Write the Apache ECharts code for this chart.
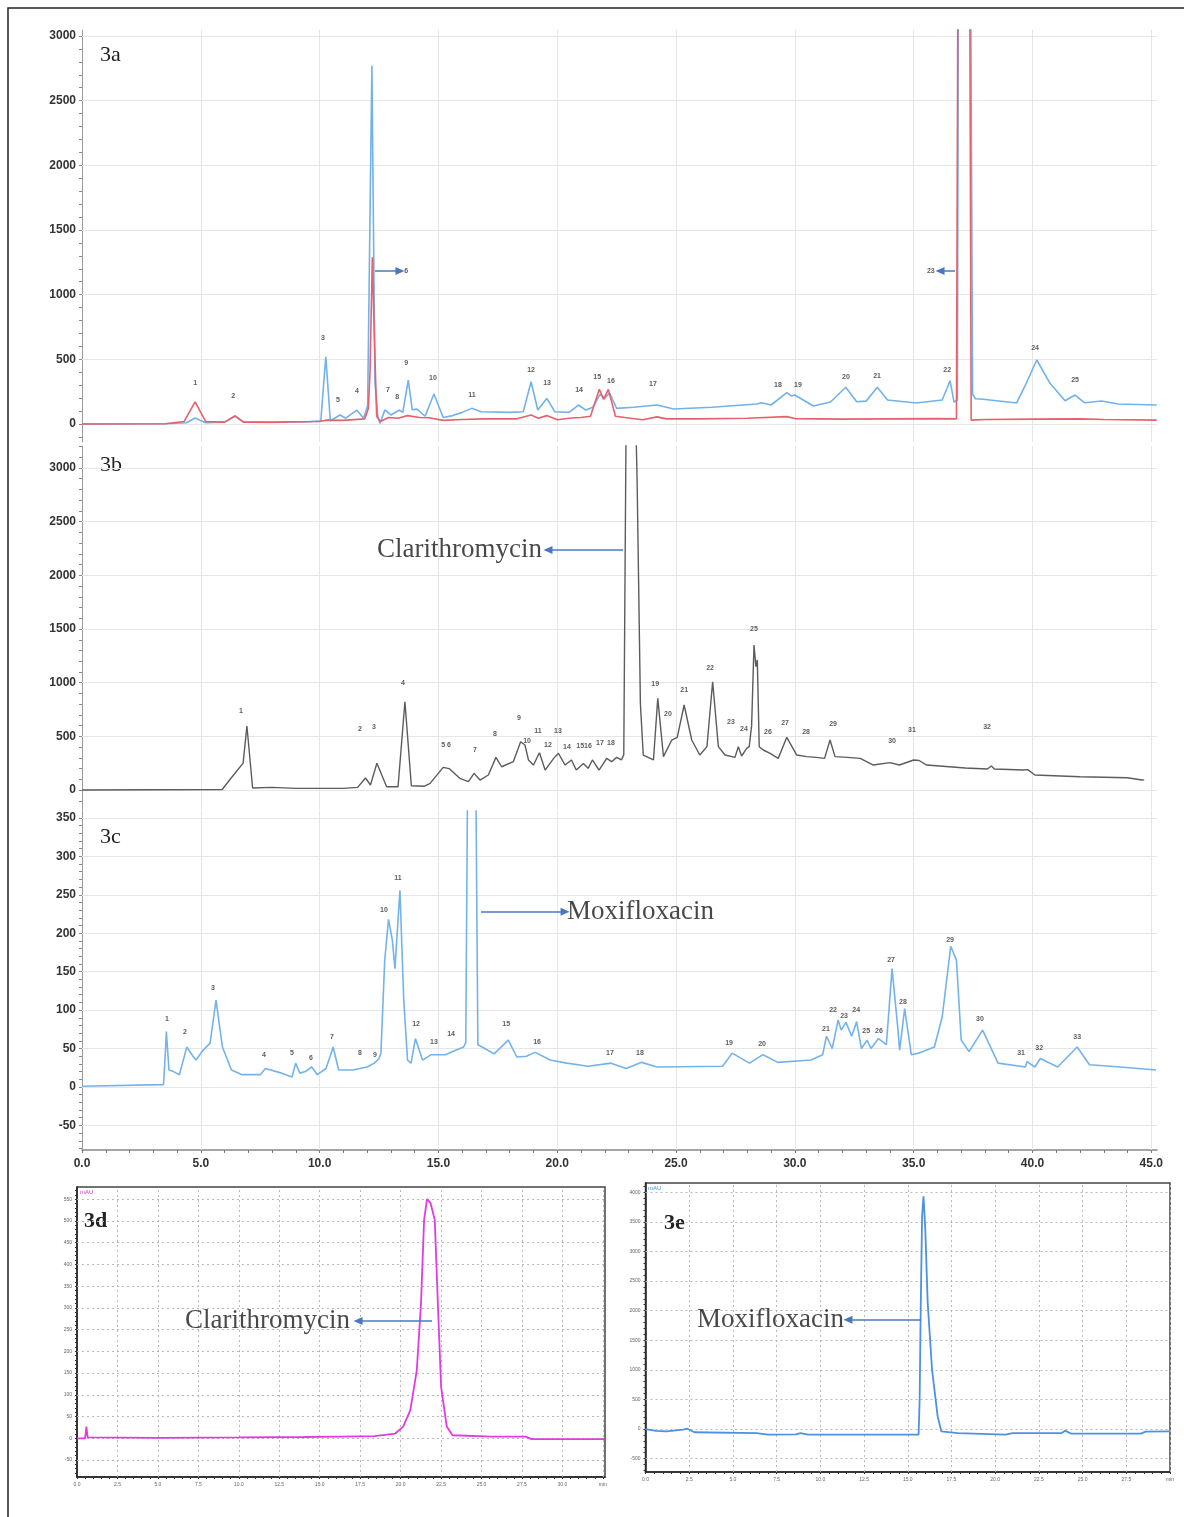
<!DOCTYPE html>
<html><head><meta charset="utf-8">
<script src="https://cdn.jsdelivr.net/npm/echarts@6/dist/echarts.min.js"></script>
<style>html,body{margin:0;padding:0;background:#fff}#c{width:1184px;height:1517px}</style>
</head><body><div id="c"></div>
<script>
// ---------------- tick labels ----------------
const xTicks = [0,5,10,15,20,25,30,35,40,45];
const yTicksA = [0,500,1000,1500,2000,2500,3000];
const yTicksB = [0,500,1000,1500,2000,2500,3000];
const yTicksC = [-50,0,50,100,150,200,250,300,350];
const xTicksD = [0,2.5,5,7.5,10,12.5,15,17.5,20,22.5,25,27.5,30,32.5];
const yTicksD = [-50,0,50,100,150,200,250,300,350,400,450,500,550];
const xTicksE = [0,2.5,5,7.5,10,12.5,15,17.5,20,22.5,25,27.5,30];
const yTicksE = [-500,0,500,1000,1500,2000,2500,3000,3500,4000];

// ---------------- series values [time(min), response] ----------------
const blueA = [[0,0],[3.5,2],[4.4,10],[4.76,46],[5.2,10],[6.0,15],[6.44,62],[6.8,15],[8,12],[9.5,18],[10.05,25],
[10.26,520],[10.45,25],[10.86,70],[11.1,45],[11.56,108],[11.85,45],[12.02,140],[12.2,2770],[12.33,320],[12.45,60],[12.54,5],
[12.75,110],[13.0,70],[13.36,108],[13.5,90],[13.73,340],[13.9,110],[14.1,115],[14.44,60],[14.81,232],[15.2,50],[15.6,65],[16.0,90],
[16.4,121],[16.8,95],[18.0,90],[18.57,95],[18.9,327],[19.18,108],[19.56,198],[19.9,95],[20.5,90],[20.89,147],[21.2,108],
[21.5,130],[21.8,230],[22.0,200],[22.2,240],[22.5,121],[23.2,130],[24.2,147],[24.9,116],[26.5,130],[28.4,155],[28.6,165],[29.0,147],
[29.66,242],[29.85,217],[30.0,224],[30.78,139],[31.5,170],[32.14,284],[32.6,172],[33.0,177],[33.47,284],[33.9,186],[35.1,162],[36.2,186],
[36.53,335],[36.7,170],[36.84,185],[36.88,3400],[37.40,3400],[37.48,230],[37.6,195],[37.93,191],[39.33,162],[39.7,300],[40.18,495],
[40.74,315],[41.37,180],[41.79,224],[42.2,164],[42.9,178],[43.6,155],[45.23,147]];
const redA = [[0,0],[3.5,2],[4.3,20],[4.76,172],[5.2,20],[6.0,15],[6.44,62],[6.8,15],[8,15],[10.0,20],[10.3,30],[11.0,28],[11.9,40],
[12.05,120],[12.12,400],[12.22,1290],[12.3,700],[12.4,60],[12.55,20],[12.9,50],[13.3,45],[13.7,65],[14.2,50],[14.6,48],[15.2,28],
[16.0,35],[16.9,40],[18.3,40],[18.9,70],[19.2,45],[19.56,65],[20.0,33],[20.6,47],[21.0,50],[21.4,60],[21.77,268],[21.95,190],[22.15,268],
[22.45,60],[23.0,47],[23.6,33],[24.2,55],[24.6,40],[26,40],[28,45],[29.66,57],[30.0,42],[32,38],[34,40],[36,42],[36.8,40],
[36.86,3400],[37.36,3400],[37.42,30],[38,35],[40,38],[42,40],[43,35],[45.23,30]];
const grayB = [[0,0],[5.9,5],[6.21,93],[6.78,251],[6.94,596],[7.18,19],[8.0,25],[9.0,15],[11.0,15],[11.6,25],[11.93,112],[12.14,47],
[12.41,249],[12.82,31],[13.3,31],[13.59,823],[13.86,40],[14.4,35],[14.65,62],[15.2,211],[15.45,200],[15.9,109],[16.26,78],[16.5,155],
[16.75,93],[17.1,140],[17.42,304],[17.66,217],[18.15,264],[18.46,450],[18.64,420],[18.79,280],[19.0,233],[19.25,348],[19.49,186],
[19.85,295],[20.05,342],[20.33,233],[20.6,280],[20.8,186],[21.1,248],[21.3,202],[21.48,280],[21.76,186],[22.08,295],[22.29,264],
[22.5,304],[22.7,280],[22.8,330],[22.9,3500],[23.3,3500],[23.36,2900],[23.5,800],[23.62,326],[24.05,280],[24.23,854],[24.47,311],
[24.82,466],[25.05,490],[25.34,792],[25.66,466],[26.0,326],[26.3,404],[26.54,1009],[26.78,404],[27.06,326],[27.48,304],[27.62,404],
[27.76,317],[27.97,388],[28.08,404],[28.18,600],[28.28,1351],[28.36,1150],[28.42,1212],[28.5,404],[28.67,373],[28.96,342],[29.3,295],
[29.66,491],[30.08,326],[30.5,311],[30.9,304],[31.25,295],[31.48,466],[31.69,311],[32.2,304],[32.75,295],[33.3,233],[34.0,255],
[34.4,233],[35.0,280],[35.23,275],[35.55,233],[37.17,205],[38.1,196],[38.27,224],[38.4,196],[39.6,186],[39.8,190],[40.1,140],
[42.0,124],[43.99,115],[44.6,93],[44.7,95]];
const blueC = [[0,1],[3.43,3],[3.5,40],[3.55,72],[3.66,22],[3.85,20],[4.1,16],[4.41,52],[4.67,40],[4.8,35],[5.1,48],[5.39,57],[5.64,113],
[5.91,52],[6.29,22],[6.74,16],[7.5,16],[7.72,24],[8.4,18],[8.84,13],[8.99,31],[9.17,18],[9.4,20],[9.67,26],[9.9,16],[10.27,24],[10.57,52],
[10.8,22],[11.4,22],[12.0,26],[12.3,31],[12.5,37],[12.58,44],[12.74,165],[12.9,218],[13.06,191],[13.17,154],[13.38,256],[13.54,113],
[13.7,35],[13.85,31],[14.03,63],[14.33,35],[14.7,42],[15.3,42],[15.6,46],[16.06,52],[16.15,58],[16.25,500],[16.55,500],[16.66,55],
[16.95,50],[17.34,43],[17.94,61],[18.3,39],[18.7,40],[19.07,45],[19.7,35],[20.4,31],[21.3,27],[22.26,31],[22.9,24],[23.55,32],[24.2,26],
[26.96,27],[27.36,44],[28.09,31],[28.66,42],[29.28,32],[30.68,35],[31.17,42],[31.33,66],[31.57,50],[31.82,87],[31.95,74],[32.15,84],
[32.39,66],[32.6,85],[32.8,50],[33.04,61],[33.2,50],[33.52,63],[33.85,55],[34.09,154],[34.34,74],[34.41,48],[34.62,102],[34.9,42],
[35.2,44],[35.87,52],[36.2,91],[36.56,183],[36.8,165],[37.0,61],[37.33,46],[37.9,74],[38.55,31],[39.7,26],[39.77,33],[40.1,26],
[40.33,37],[41.06,26],[41.88,52],[42.4,29],[43.7,26],[45.2,22]];
const magD = [[0,0],[0.5,0],[0.58,27],[0.66,2],[5,1],[10,2],[14,3],[16.25,4],[18.4,5],[19.67,11],[20.16,27],[20.6,65],[21.0,157],
[21.26,311],[21.45,502],[21.63,550],[21.85,541],[22.11,502],[22.3,311],[22.5,119],[22.85,27],[23.2,7],[25.6,4],[27.7,4],[28.1,-2],[32.6,-2]];
const blueE = [[0,0],[0.6,-30],[1.2,-40],[2.15,-10],[2.4,5],[2.8,-55],[6.35,-68],[7.0,-96],[8.6,-90],[8.87,-68],[9.3,-96],[15.5,-96],
[15.62,-96],[15.68,500],[15.74,2000],[15.82,3600],[15.9,3929],[16.0,3400],[16.14,2134],[16.39,1002],[16.71,213],[16.92,-40],[17.87,-68],
[20.58,-96],[21.0,-70],[23.8,-68],[24.0,-28],[24.35,-79],[28.33,-79],[28.6,-45],[30,-40]];

// ---------------- peak annotations [time, response, text] ----------------
const peaksA = [[4.76,317,'1'],[6.36,217,'2'],[10.14,665,'3'],[10.77,186,'5'],[11.57,255,'4'],[12.88,263,'7'],[13.26,209,'8'],
[13.64,472,'9'],[14.77,356,'10'],[16.41,224,'11'],[18.9,418,'12'],[19.57,317,'13'],[20.92,263,'14'],[21.68,363,'15'],[22.26,332,'16'],
[24.03,309,'17'],[29.29,302,'18'],[30.13,302,'19'],[32.15,363,'20'],[33.46,371,'21'],[36.41,418,'22'],[40.11,588,'24'],[41.79,340,'25'],
[13.64,1183,'6'],[35.72,1183,'23']];
const peaksB = [[6.69,736,'1'],[11.7,568,'2'],[12.29,587,'3'],[13.51,997,'4'],[15.32,419,'5 6'],[16.54,373,'7'],[17.38,522,'8'],
[18.39,671,'9'],[18.73,457,'10'],[19.19,550,'11'],[19.61,419,'12'],[20.03,550,'13'],[20.41,401,'14'],[21.13,410,'1516'],[21.8,438,'17'],
[22.26,438,'18'],[24.12,988,'19'],[24.66,708,'20'],[25.34,932,'21'],[26.43,1137,'22'],[27.31,634,'23'],[27.86,568,'24'],[28.28,1500,'25'],
[28.87,540,'26'],[29.59,624,'27'],[30.47,540,'28'],[31.61,615,'29'],[34.09,457,'30'],[34.93,559,'31'],[38.09,587,'32']];
const peaksC = [[3.58,88.5,'1'],[4.33,71.6,'2'],[5.51,128.8,'3'],[7.66,41.6,'4'],[8.84,44.2,'5'],[9.64,37.7,'6'],[10.52,65,'7'],
[11.7,44.2,'8'],[12.33,41.6,'9'],[12.71,230,'10'],[13.3,272,'11'],[14.06,82,'12'],[14.81,58.5,'13'],[15.53,69,'14'],[17.85,82,'15'],
[19.15,58.5,'16'],[22.22,44.2,'17'],[23.48,44.2,'18'],[27.23,57.2,'19'],[28.62,56,'20'],[31.31,75.5,'21'],[31.61,100,'22'],
[32.07,92.4,'23'],[32.58,100,'24'],[33.0,72.9,'25'],[33.54,72.9,'26'],[34.05,165,'27'],[34.55,110.6,'28'],[36.53,191,'29'],
[37.79,88.5,'30'],[39.52,44.2,'31'],[40.28,50.7,'32'],[41.88,65,'33']];
// drug names [time, response, text, align]
const namesB = [[19.36,2236,'Clarithromycin','right']];
const namesC = [[20.41,228,'Moxifloxacin','left']];
const namesD = [[16.87,270,'Clarithromycin','right']];
const namesE = [[11.35,1846,'Moxifloxacin','right']];
// arrows [fromTime, toTime, response]
const arrowsA = [[12.33,13.38,1183],[36.74,36.11,1183]];
const arrowsB = [[22.77,19.61,2236]];
const arrowsC = [[16.79,20.33,228]];
const arrowsD = [[21.94,17.37,270]];
const arrowsE = [[15.76,11.58,1846]];

// ---------------- chart ----------------
const X_MAX = 45.24;
function range(a,b,s){const r=[];for(let v=a;v<=b+1e-9;v+=s)r.push(Math.round(v*100)/100);return r;}
const FONT = 'Liberation Sans, Arial, sans-serif';
const SERIF = 'Liberation Serif, Times New Roman, serif';
const plain = v => String(v);

function mainX(gi, show){
  return {type:'value', gridIndex:gi, min:0, max:X_MAX,
    axisLine:{show:show, onZero:false, lineStyle:{color:'#888', width:1.5}},
    axisTick:{show:show, customValues:range(0,45,1), length:3, lineStyle:{color:'#777'}},
    axisLabel:{show:show, customValues:xTicks, formatter:v=>v.toFixed(1), fontSize:12, fontWeight:'bold', color:'#333', fontFamily:FONT, margin:8},
    splitLine:{show:false}};
}
function mainY(gi, min, max, labels, minor){
  return {type:'value', gridIndex:gi, min:min, max:max,
    axisLine:{show:true, onZero:false, lineStyle:{color:'#999', width:1}},
    axisTick:{show:true, customValues:minor, length:3, lineStyle:{color:'#888'}},
    axisLabel:{customValues:labels, formatter:plain, fontSize:12, fontWeight:'bold', color:'#333', fontFamily:FONT, margin:6},
    splitLine:{show:false}};
}
function smallX(gi, max, labels){
  return {type:'value', gridIndex:gi, min:0, max:max,
    axisLine:{show:true, onZero:false, lineStyle:{color:'#222', width:1.5}},
    axisTick:{show:true, customValues:range(0,max,0.5), length:2, lineStyle:{color:'#333'}},
    axisLabel:{customValues:labels, fontSize:5, color:'#666', fontFamily:FONT, margin:5,
      formatter:v=>(Math.abs(v-labels[labels.length-1])<1e-6?'min':v.toFixed(1))},
    splitLine:{show:false}};
}
function smallY(gi, min, max, labels, minor){
  return {type:'value', gridIndex:gi, min:min, max:max,
    axisLine:{show:true, onZero:false, lineStyle:{color:'#222', width:1.5}},
    axisTick:{show:true, customValues:minor, length:2, lineStyle:{color:'#333'}},
    axisLabel:{customValues:labels, formatter:plain, fontSize:5, color:'#666', fontFamily:FONT, margin:5},
    splitLine:{show:false}};
}
function gridSeries(i, xs, ys, style){
  return {type:'line', xAxisIndex:i, yAxisIndex:i, data:[], silent:true, animation:false,
    markLine:{silent:true, z:1, animation:false, symbol:['none','none'], label:{show:false}, lineStyle:style,
      data:[...xs.map(v=>({xAxis:v})), ...ys.map(v=>({yAxis:v}))]}};
}
function trace(i, data, color, w){
  return {type:'line', xAxisIndex:i, yAxisIndex:i, data:data, showSymbol:false, symbol:'none', clip:true,
    lineStyle:{color:color, width:w}, itemStyle:{color:color}, z:3, animation:false, silent:true};
}
function notes(i, peaks, names, arrows){
  const d = peaks.map(p=>({value:[p[0],p[1]], name:p[2]}));
  names.forEach(n=>d.push({value:[n[0],n[1]], name:n[2],
    label:{fontSize:27, fontFamily:SERIF, fontWeight:'normal', color:'#1a1a1a', align:n[3]}}));
  return {type:'scatter', xAxisIndex:i, yAxisIndex:i, data:d, symbolSize:0.1, itemStyle:{color:'rgba(0,0,0,0)'}, z:4,
    silent:true, animation:false,
    label:{show:true, position:'inside', formatter:'{b}', fontSize:7, fontWeight:'bold', color:'#333', fontFamily:FONT},
    markLine:{silent:true, z:6, animation:false, symbol:['none','triangle'], symbolSize:[8,9], label:{show:false},
      lineStyle:{color:'#4a78c0', width:1.5, type:'solid'},
      data:arrows.map(a=>[{coord:[a[0],a[2]]},{coord:[a[1],a[2]]}])}};
}

const mainGridStyle = {color:'#e6e6e6', width:1, type:'solid'};
const smallGridStyle = {color:'#b8b8b8', width:1, type:[2,3]};

const option = {
  animation:false,
  backgroundColor:'#fff',
  grid:[
    {left:82, top:30, width:1075, height:412},
    {left:82, top:446, width:1075, height:364},
    {left:82, top:811, width:1075, height:339},
    {left:77, top:1187, width:528, height:290, show:true, borderColor:'#444', borderWidth:1.5},
    {left:645.5, top:1183, width:524.5, height:289, show:true, borderColor:'#444', borderWidth:1.5}
  ],
  xAxis:[mainX(0,false), mainX(1,false), mainX(2,true), smallX(3,32.63,xTicksD), smallX(4,30,xTicksE)],
  yAxis:[
    mainY(0,-139,3046,yTicksA,range(-100,3000,100)),
    mainY(1,-186,3205,yTicksB,range(-100,3200,100)),
    mainY(2,-82,359,yTicksC,range(-80,350,10)),
    smallY(3,-89,578,yTicksD,range(-80,570,10)),
    smallY(4,-726,4155,yTicksE,range(-700,4100,100))
  ],
  series:[
    gridSeries(0, xTicks.slice(1), yTicksA, mainGridStyle),
    gridSeries(1, xTicks.slice(1), yTicksB, mainGridStyle),
    gridSeries(2, xTicks.slice(1), yTicksC, mainGridStyle),
    gridSeries(3, xTicksD.slice(1), yTicksD, smallGridStyle),
    gridSeries(4, xTicksE.slice(1), yTicksE, smallGridStyle),
    trace(0, blueA, '#72b2ea', 1.6),
    trace(0, redA, '#e8606c', 1.6),
    trace(1, grayB, '#5c5c5c', 1.4),
    trace(2, blueC, '#74b3ea', 1.6),
    trace(3, magD, '#e03ce0', 1.8),
    trace(4, blueE, '#4c92e0', 1.8),
    notes(0, peaksA, [], arrowsA),
    notes(1, peaksB, namesB, arrowsB),
    notes(2, peaksC, namesC, arrowsC),
    notes(3, [], namesD, arrowsD),
    notes(4, [], namesE, arrowsE)
  ],
  graphic:[
    {type:'rect', shape:{x:8, y:8, width:1200, height:1540}, style:{fill:'none', stroke:'#222', lineWidth:1.5}, silent:true},
    {type:'text', x:100, y:55, style:{text:'3a', font:'22px '+SERIF, fill:'#222', textVerticalAlign:'middle'}},
    {type:'text', x:100, y:465, style:{text:'3b', font:'22px '+SERIF, fill:'#222', textVerticalAlign:'middle'}},
    {type:'text', x:100, y:837, style:{text:'3c', font:'22px '+SERIF, fill:'#222', textVerticalAlign:'middle'}},
    {type:'text', x:84, y:1221, style:{text:'3d', font:'bold 22px '+SERIF, fill:'#222', textVerticalAlign:'middle'}},
    {type:'text', x:664, y:1223, style:{text:'3e', font:'bold 22px '+SERIF, fill:'#222', textVerticalAlign:'middle'}},
    {type:'text', x:80, y:1189, style:{text:'mAU', font:'6px '+FONT, fill:'#d040d0'}},
    {type:'text', x:648, y:1185, style:{text:'mAU', font:'6px '+FONT, fill:'#4c92e0'}}
  ]
};
const chart = echarts.init(document.getElementById('c'), null, {renderer:'canvas'});
chart.setOption(option);
</script>
</body></html>
